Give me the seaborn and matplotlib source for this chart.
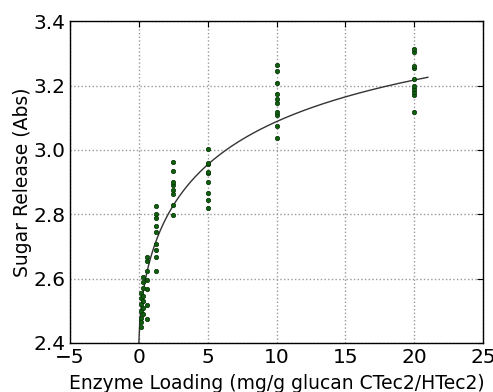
import numpy as np
import pandas as pd
import matplotlib
matplotlib.use("Agg")
import matplotlib.pyplot as plt
import seaborn as sns

# enzyme loadings (mg/g glucan) and measured sugar release at each loading
loadings = [0.156, 0.3125, 0.625, 1.25, 2.5, 5, 10, 20]
release_0156 = [2.45, 2.465, 2.478, 2.50, 2.52, 2.54, 2.555]
release_0313 = [2.49, 2.51, 2.53, 2.545, 2.571, 2.59, 2.605]
release_0625 = [2.475, 2.518, 2.568, 2.596, 2.624, 2.655, 2.668]
release_125 = [2.624, 2.667, 2.689, 2.707, 2.745, 2.763, 2.788, 2.80, 2.825]
release_25 = [2.798, 2.829, 2.863, 2.875, 2.891, 2.90, 2.934, 2.962]
release_5 = [2.819, 2.844, 2.866, 2.90, 2.928, 2.931, 2.956, 2.959, 3.002]
release_10 = [3.037, 3.074, 3.108, 3.117, 3.145, 3.158, 3.173, 3.207, 3.245, 3.265]
release_20 = [3.117, 3.17, 3.18, 3.19, 3.20, 3.22, 3.254, 3.26, 3.305, 3.313]

# fitted saturation curve (Hill type) parameters
y0, vmax, km, hill = 2.40, 1.27, 7.6, 0.61

groups = [release_0156, release_0313, release_0625, release_125,
          release_25, release_5, release_10, release_20]
df = pd.DataFrame({
    "loading": np.repeat(loadings, [len(g) for g in groups]),
    "release": np.concatenate(groups),
})

xf = np.linspace(0, 21, 300)
fit = pd.DataFrame({"loading": xf,
                    "release": y0 + vmax * xf**hill / (km**hill + xf**hill)})

sns.set_style("white")
plt.rcParams.update({
    "xtick.direction": "in",
    "ytick.direction": "in",
    "text.color": "black",
    "axes.labelcolor": "black",
    "xtick.color": "black",
    "ytick.color": "black",
})

fig = plt.figure(figsize=(4.93, 3.92), dpi=100)
ax = fig.add_axes([0.142, 0.125, 0.838, 0.821])

sns.scatterplot(data=df, x="loading", y="release", ax=ax, s=10,
                color="#0f5f0f", edgecolor="#043004", linewidth=0.5, zorder=3)
sns.lineplot(data=fit, x="loading", y="release", ax=ax, color="#333333",
             linewidth=1.0, zorder=2)

ax.set_xlim(-5, 25)
ax.set_ylim(2.4, 3.4)
ax.set_xticks([-5, 0, 5, 10, 15, 20, 25])
ax.set_yticks([2.4, 2.6, 2.8, 3.0, 3.2, 3.4])
ax.set_yticklabels(["2.4", "2.6", "2.8", "3.0", "3.2", "3.4"])
ax.grid(True, linestyle=":", color="#999999", linewidth=1)
ax.tick_params(labelsize=14.5, length=4, top=True, right=True)
for s in ax.spines.values():
    s.set_color("black")
    s.set_linewidth(1)
ax.set_xlabel("Enzyme Loading (mg/g glucan CTec2/HTec2)", fontsize=13.5, labelpad=5)
ax.set_ylabel("Sugar Release (Abs)", fontsize=13.5, labelpad=1)

fig.savefig("out.png", dpi=100)
